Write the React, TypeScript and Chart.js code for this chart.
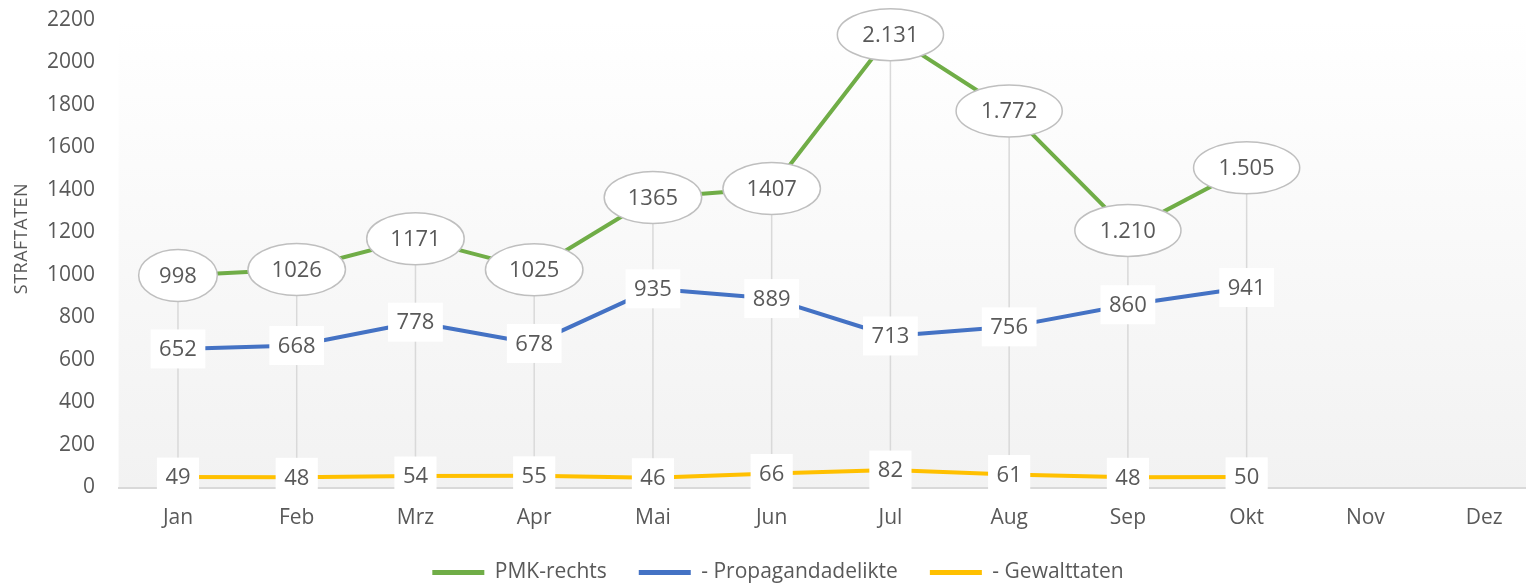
import { useEffect, useRef } from "react";
import { Chart, registerables } from "chart.js";

Chart.register(...registerables);

const months = ["Jan", "Feb", "Mrz", "Apr", "Mai", "Jun", "Jul", "Aug", "Sep", "Okt", "Nov", "Dez"];
const pmkRechts = [998, 1026, 1171, 1025, 1365, 1407, 2131, 1772, 1210, 1505, null, null];
const pmkLabels = ["998", "1026", "1171", "1025", "1365", "1407", "2.131", "1.772", "1.210", "1.505"];
const propaganda = [652, 668, 778, 678, 935, 889, 713, 756, 860, 941, null, null];
const gewalt = [49, 48, 54, 55, 46, 66, 82, 61, 48, 50, null, null];
const seriesNames = ["PMK-rechts", "- Propagandadelikte", "- Gewalttaten"];
const seriesColors = ["#70ad47", "#4472c4", "#ffc000"];
const yMin = 0;
const yMax = 2200;
const yStep = 200;
const axisTitle = "STRAFTATEN";

const TEXT = "#595959";
const FONT = "'Open Sans', sans-serif";

const bgPlugin = {
  id: "plotBg",
  beforeDraw(chart: any) {
    const { ctx, chartArea: a } = chart;
    const g = ctx.createLinearGradient(0, a.top, 0, a.bottom);
    g.addColorStop(0, "#ffffff");
    g.addColorStop(1, "#f2f2f2");
    ctx.save();
    ctx.fillStyle = g;
    ctx.fillRect(a.left, a.top, a.right - a.left, a.bottom - a.top);
    ctx.restore();
  },
};

const dropLinePlugin = {
  id: "dropLines",
  beforeDatasetsDraw(chart: any) {
    const { ctx, chartArea: a } = chart;
    const xs = chart.scales.x;
    const ys = chart.scales.y;
    ctx.save();
    ctx.strokeStyle = "#d9d9d9";
    ctx.lineWidth = 1.5;
    pmkRechts.forEach((v, i) => {
      if (v == null) return;
      const x = xs.getPixelForValue(i);
      ctx.beginPath();
      ctx.moveTo(x, ys.getPixelForValue(v));
      ctx.lineTo(x, a.bottom);
      ctx.stroke();
    });
    ctx.restore();
  },
};

const labelPlugin = {
  id: "valueLabels",
  afterDatasetsDraw(chart: any) {
    const { ctx } = chart;
    const xs = chart.scales.x;
    const ys = chart.scales.y;
    ctx.save();
    ctx.font = `22px ${FONT}`;
    ctx.textAlign = "center";
    ctx.textBaseline = "middle";
    pmkRechts.forEach((v, i) => {
      if (v == null) return;
      const x = xs.getPixelForValue(i);
      const y = ys.getPixelForValue(v);
      const t = pmkLabels[i];
      const tw = ctx.measureText(t).width;
      const w = tw * 1.5 + 22;
      const h = 52;
      ctx.beginPath();
      ctx.ellipse(x, y, w / 2, h / 2, 0, 0, Math.PI * 2);
      ctx.fillStyle = "#ffffff";
      ctx.fill();
      ctx.lineWidth = 1.5;
      ctx.strokeStyle = "#bfbfbf";
      ctx.stroke();
      ctx.fillStyle = TEXT;
      ctx.fillText(t, x, y + 1);
    });
    [propaganda, gewalt].forEach((arr) => {
      arr.forEach((v, i) => {
        if (v == null) return;
        const x = xs.getPixelForValue(i);
        const y = ys.getPixelForValue(v);
        const t = String(v);
        const tw = ctx.measureText(t).width;
        const w = tw + 17;
        const h = 39;
        ctx.fillStyle = "#ffffff";
        ctx.fillRect(x - w / 2, y - h / 2, w, h);
        ctx.fillStyle = TEXT;
        ctx.fillText(t, x, y + 1);
      });
    });
    ctx.restore();
  },
};

const titlePlugin = {
  id: "yTitle",
  afterDraw(chart: any) {
    const { ctx } = chart;
    ctx.save();
    ctx.translate(22, 238.5);
    ctx.rotate(-Math.PI / 2);
    ctx.font = `18px ${FONT}`;
    (ctx as any).letterSpacing = "0.5px";
    ctx.fillStyle = TEXT;
    ctx.textAlign = "center";
    ctx.textBaseline = "middle";
    ctx.fillText(axisTitle, 0, 0);
    ctx.restore();
  },
};

export default function App() {
  const ref = useRef<HTMLCanvasElement | null>(null);

  useEffect(() => {
    if (!ref.current) return;
    const chart = new Chart(ref.current, {
      type: "line",
      data: {
        labels: months,
        datasets: [
          { label: seriesNames[0], data: pmkRechts, borderColor: seriesColors[0], backgroundColor: seriesColors[0] },
          { label: seriesNames[1], data: propaganda, borderColor: seriesColors[1], backgroundColor: seriesColors[1] },
          { label: seriesNames[2], data: gewalt, borderColor: seriesColors[2], backgroundColor: seriesColors[2] },
        ],
      },
      options: {
        responsive: false,
        animation: false,
        devicePixelRatio: 1,
        layout: { padding: { left: 12.5, right: 16.5, top: 20, bottom: 0 } },
        elements: {
          line: { borderWidth: 4, tension: 0, borderCapStyle: "round", borderJoinStyle: "round" },
          point: { radius: 0, hoverRadius: 0 },
        },
        plugins: {
          tooltip: { enabled: false },
          legend: {
            position: "bottom",
            labels: {
              color: TEXT,
              font: { family: FONT, size: 21 },
              boxWidth: 52,
              boxHeight: 5,
              padding: 32,
              generateLabels: (c: any) =>
                c.data.datasets.map((ds: any, i: number) => ({
                  text: ds.label,
                  fillStyle: ds.borderColor,
                  strokeStyle: ds.borderColor,
                  lineWidth: 0,
                  hidden: false,
                  datasetIndex: i,
                  fontColor: TEXT,
                })),
            },
          },
        },
        scales: {
          x: {
            type: "category",
            offset: true,
            grid: { display: true, drawOnChartArea: false, drawTicks: false },
            border: { display: true, color: "#d9d9d9", width: 2 },
            ticks: { color: TEXT, font: { family: FONT, size: 21 }, padding: 18, maxRotation: 0, autoSkip: false },
            afterFit: (s: any) => {
              s.height = 42.5;
            },
          },
          y: {
            min: yMin,
            max: yMax,
            grid: { display: false, drawTicks: false },
            border: { display: false },
            ticks: {
              stepSize: yStep,
              color: TEXT,
              font: { family: FONT, size: 21 },
              padding: 23.6,
              callback: (v: any) => String(v),
            },
            afterFit: (s: any) => {
              s.width = 106.1;
              s.paddingTop = 0;
              s.paddingBottom = 0;
            },
          },
        },
      },
      plugins: [bgPlugin, dropLinePlugin, labelPlugin, titlePlugin],
    } as any);
    return () => chart.destroy();
  }, []);

  return (
    <div
      style={{
        position: "fixed",
        left: 0,
        top: 0,
        width: 1526,
        height: 587,
        overflow: "hidden",
        background: "#ffffff",
      }}
    >
      <canvas ref={ref} width={1560} height={593} style={{ display: "block", width: 1560, height: 593 }} />
    </div>
  );
}
